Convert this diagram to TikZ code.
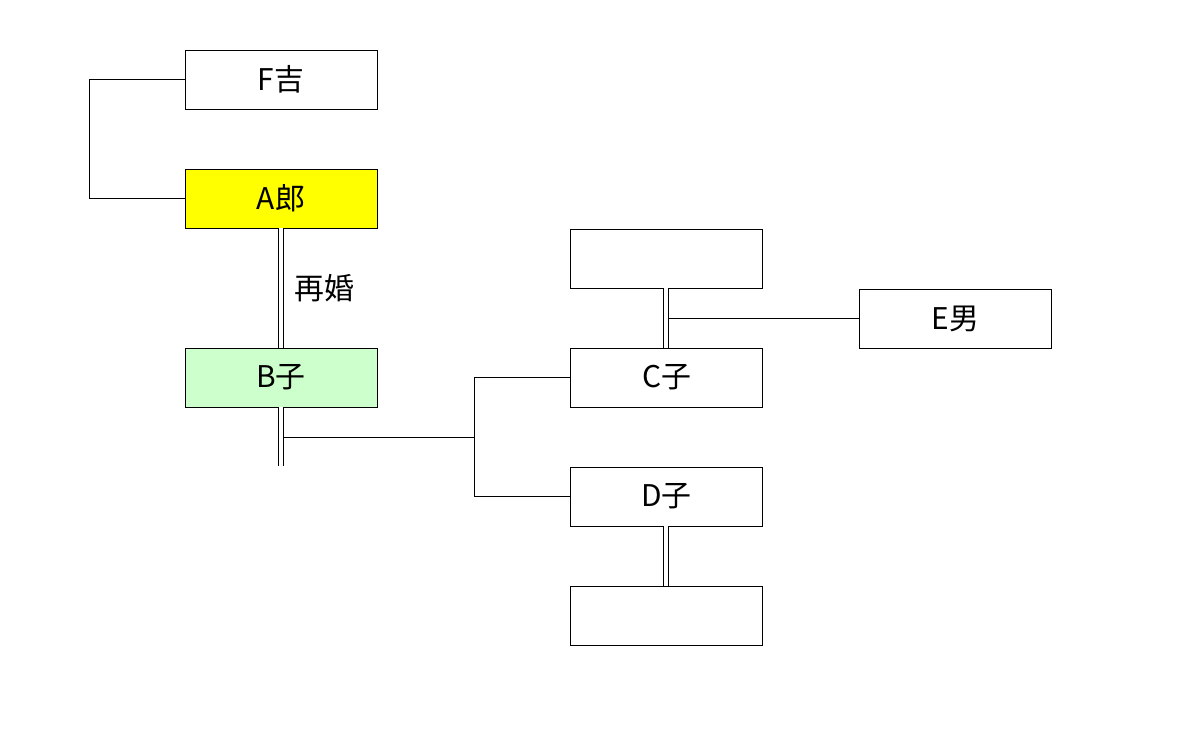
\documentclass[tikz,border=0pt]{standalone}
\usepackage{fontspec}
\setmainfont{Noto Sans CJK JP}
\usetikzlibrary{positioning}
\tikzset{person/.style={draw, thin, minimum width=3.84cm, minimum height=1.18cm, inner sep=0pt, font=\fontsize{17}{20}\selectfont},
  marriage/.style={double, double distance=2.5pt, thin}}
\definecolor{ayellow}{RGB}{255,255,0}
\definecolor{bgreen}{RGB}{204,255,204}
\begin{document}
\begin{tikzpicture}[x=0.02cm,y=-0.02cm]
\useasboundingbox (0,0) rectangle (1200,734);

\node[person] (fkichi) at (281,79.5) {F吉};
\node[person, fill=ayellow] (aro) at (281,198.5) {A郎};
\node[person, fill=bgreen] (bko) at (281,377.5) {B子};
\node[person] (cspouse) at (666.5,258.5) {};
\node[person] (cko) at (666.5,377.5) {C子};
\node[person] (dko) at (666.5,496.5) {D子};
\node[person] (dspouse) at (666.5,615.5) {};
\node[person] (eo) at (955.5,318.5) {E男};

\coordinate (fa) at (89,0);
\draw (fkichi.west) -- (fkichi.west -| fa) -- (aro.west -| fa) -- (aro.west);

\draw[marriage] (aro.south) -- (bko.north) node[midway, right=4pt, font=\fontsize{17}{20}\selectfont] {再婚};
\coordinate (bend) at (281,466);
\draw[marriage] (bko.south) -- (bend);

\coordinate (bcmid) at (283,437);
\coordinate (kids) at (474,437);
\draw (bcmid) -- (kids);
\draw (cko.west) -- (cko.west -| kids) -- (dko.west -| kids) -- (dko.west);

% right column lines at a whole pixel
\coordinate (rcol) at (666,0);
\draw[marriage] (cspouse.south -| rcol) -- (cko.north -| rcol);
\coordinate (cmid) at (668,318.5);
\draw (cmid) -- (eo.west);

\draw[marriage] (dko.south -| rcol) -- (dspouse.north -| rcol);
\end{tikzpicture}
\end{document}
